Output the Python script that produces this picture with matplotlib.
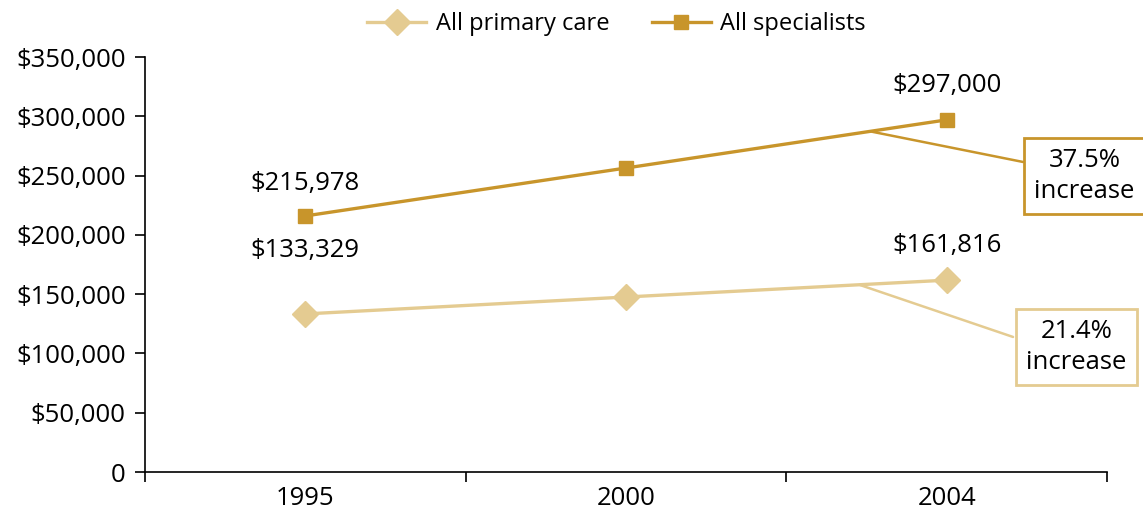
import matplotlib.pyplot as plt
from matplotlib.ticker import FuncFormatter

years = ['1995', '2000', '2004']
primary_care = [133329, 147600, 161816]
specialists = [215978, 256400, 297000]
primary_labels = ['$133,329', None, '$161,816']
specialist_labels = ['$215,978', None, '$297,000']
primary_note = '21.4%\nincrease'
specialist_note = '37.5%\nincrease'

SPEC_COLOR = '#C8952B'
PRIM_COLOR = '#E4CB91'
FS = 18.5

plt.rcParams['font.family'] = ['Open Sans', 'DejaVu Sans']
plt.rcParams['font.size'] = FS

fig = plt.figure(figsize=(11.43, 5.11), dpi=100)
ax = fig.add_axes([0.1269, 0.0763, 0.8416, 0.8121])

x = list(range(len(years)))
ax.plot(x, primary_care, color=PRIM_COLOR, lw=2.4, marker='D', markersize=13,
        label='All primary care', clip_on=False, zorder=3)
ax.plot(x, specialists, color=SPEC_COLOR, lw=2.4, marker='s', markersize=9.5,
        label='All specialists', clip_on=False, zorder=3)

# value labels above the points
prim_offsets = [46, 0, 25]
spec_offsets = [23, 0, 24.5]
for i, lab in enumerate(primary_labels):
    if lab:
        ax.annotate(lab, (x[i], primary_care[i]), xytext=(0, prim_offsets[i]),
                    textcoords='offset points', ha='center', va='center')
for i, lab in enumerate(specialist_labels):
    if lab:
        ax.annotate(lab, (x[i], specialists[i]), xytext=(0, spec_offsets[i]),
                    textcoords='offset points', ha='center', va='center')

# callout boxes with leader lines
ax.annotate('', xy=(1.767, 287000), xytext=(2.238, 261500),
            arrowprops=dict(arrowstyle='-', color=SPEC_COLOR, lw=1.8,
                            shrinkA=0, shrinkB=0), annotation_clip=False)
ax.text(2.43, 249600, specialist_note, ha='center', va='center',
        linespacing=1.3, clip_on=False,
        bbox=dict(boxstyle='square,pad=0.4', fc='white', ec=SPEC_COLOR, lw=2))
ax.annotate('', xy=(1.73, 157700), xytext=(2.207, 113900),
            arrowprops=dict(arrowstyle='-', color=PRIM_COLOR, lw=1.8,
                            shrinkA=0, shrinkB=0), annotation_clip=False)
ax.text(2.405, 105400, primary_note, ha='center', va='center',
        linespacing=1.3, clip_on=False,
        bbox=dict(boxstyle='square,pad=0.4', fc='white', ec=PRIM_COLOR, lw=2))

ax.set_xlim(-0.5, 2.5)
ax.set_ylim(0, 350000)
ax.set_yticks(range(0, 350001, 50000))
ax.yaxis.set_major_formatter(FuncFormatter(lambda v, p: '0' if v == 0 else f'${v:,.0f}'))
ax.set_xticks(x)
ax.set_xticklabels(years)
ax.set_xticks([-0.5, 0.5, 1.5, 2.5], minor=True)
ax.tick_params(axis='x', which='major', length=0, pad=10)
ax.tick_params(axis='x', which='minor', length=7, width=1.2)
ax.tick_params(axis='y', length=7, width=1.2, pad=7)
for s in ['top', 'right']:
    ax.spines[s].set_visible(False)
for s in ['left', 'bottom']:
    ax.spines[s].set_linewidth(1.2)

ax.legend(loc='lower center', bbox_to_anchor=(0.49, 1.05), ncol=2, frameon=False,
          fontsize=17, handlelength=2.5, columnspacing=1.8, handletextpad=0.4,
          borderaxespad=0, borderpad=0)

fig.savefig('out.png', dpi=100)
